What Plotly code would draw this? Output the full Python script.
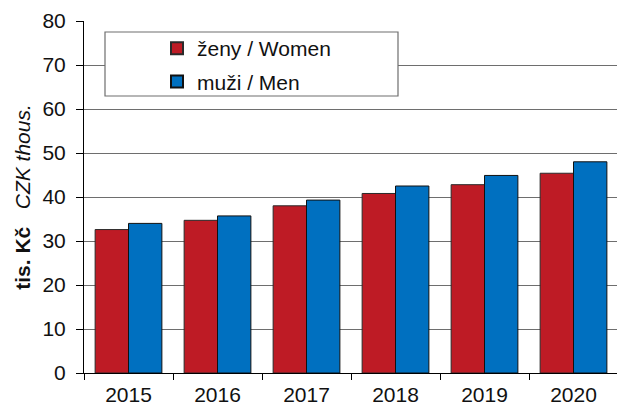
import plotly.graph_objects as go

years = ["2015", "2016", "2017", "2018", "2019", "2020"]
women = [32.6, 34.7, 38.0, 40.8, 42.8, 45.4]
men = [34.0, 35.7, 39.3, 42.5, 44.9, 48.0]
y_ticks = [0, 10, 20, 30, 40, 50, 60, 70, 80]

FONT = "Liberation Sans, Arial, sans-serif"
W, H = 617, 408
L, T, B = 84, 21, 35

fig = go.Figure()
fig.add_bar(x=years, y=women, name="ženy / Women", legendgroup="w",
            marker=dict(color="#be1b25", line=dict(color="#2a2a2a", width=1)))
fig.add_bar(x=years, y=men, name="muži / Men", legendgroup="m",
            marker=dict(color="#0070c0", line=dict(color="#111111", width=1)))

# legend frame drawn as a shape so the entries can sit indented inside it
plot_w = W - L
plot_h = H - T - B
def px_x(v):
    return (v - L) / plot_w
def px_y(v):
    return (H - B - v) / plot_h

fig.add_shape(type="rect", xref="paper", yref="paper",
              x0=px_x(105), x1=px_x(398), y0=px_y(96), y1=px_y(32),
              line=dict(color="#6e6e6e", width=1.2), fillcolor="white", layer="above")

fig.update_layout(
    width=W, height=H,
    margin=dict(l=L, r=0, t=T, b=B),
    paper_bgcolor="white", plot_bgcolor="white",
    barmode="group", bargap=0.25, bargroupgap=0,
    font=dict(family=FONT, size=21, color="#111111"),
    showlegend=True,
    legend=dict(x=px_x(157), y=px_y(28), xanchor="left", yanchor="top",
                bgcolor="rgba(0,0,0,0)", borderwidth=0,
                font=dict(family=FONT, size=21, color="#111111"),
                tracegroupgap=3, itemsizing="constant"),
    xaxis=dict(range=[-0.5, -0.5 + plot_w / 89.0], showline=True, linecolor="black",
               linewidth=1, ticks="outside", tickson="boundaries", ticklen=6,
               tickcolor="black", showgrid=False, tickfont=dict(size=21),
               ticklabelstandoff=3),
    yaxis=dict(range=[0, 80], tickvals=y_ticks, showline=True, linecolor="black",
               linewidth=1, ticks="outside", ticklen=7, tickcolor="black",
               showgrid=True, gridcolor="#6e6e6e", gridwidth=1.3,
               tickfont=dict(size=21), zeroline=False, ticklabelstandoff=6,
               title=dict(text="<b>tis. Kč</b>   <i>CZK thous.</i>",
                          font=dict(size=21), standoff=6)),
)

fig.write_html("out.html")
